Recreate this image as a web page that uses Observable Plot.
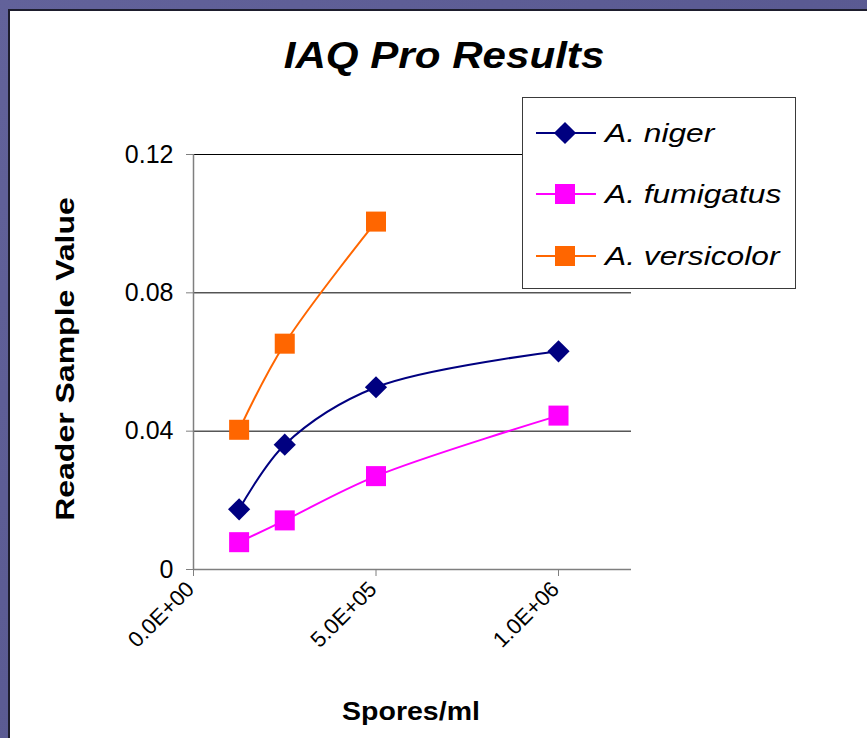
<!DOCTYPE html>
<html>
<head>
<meta charset="utf-8">
<script src="https://cdn.jsdelivr.net/npm/d3@7"></script>
<script src="https://cdn.jsdelivr.net/npm/@observablehq/plot@0.6"></script>
<style>
  html, body { margin: 0; padding: 0; }
  body { width: 867px; height: 738px; overflow: hidden; position: relative;
         background: linear-gradient(135deg, #62629a 0%, #5a5a92 50%, #5e5e96 100%);
         font-family: "Liberation Sans", Arial, sans-serif; }
  #panel { position: absolute; left: 8px; top: 9px; width: 859px; height: 729px; background: #fff;
           border-left: 2px solid #1d1d2d; border-top: 2px solid #1d1d2d; box-sizing: border-box; }
  #chart { position: absolute; left: 0; top: 0; }
  .lbl { position: absolute; white-space: nowrap; line-height: 1; color: #000; }
  #legend { position: absolute; left: 522px; top: 97px; width: 274px; height: 192px; background: #fff;
            border: 1px solid #3a3a3a; box-sizing: border-box; }
  .row { position: absolute; left: 0; height: 30px; }
  .row svg { position: absolute; left: 13px; top: 0; }
  .row span { position: absolute; left: 82px; top: 2px; font-style: italic; font-size: 26px; line-height: 1;
              white-space: nowrap; transform-origin: 0 50%; transform: scaleX(1.22); }
</style>
</head>
<body>
<div id="panel"></div>
<div id="chart"></div>
<div class="lbl" id="title" style="left:443.5px; top:56px; font-size:36px; font-weight:bold; font-style:italic; transform:translate(-50%,-50%) scaleX(1.17);">IAQ Pro Results</div>
<div class="lbl" id="ylabel" style="left:65px; top:359px; font-size:25px; font-weight:bold; transform:translate(-50%,-50%) rotate(-90deg) scaleX(1.28);">Reader Sample Value</div>
<div class="lbl" id="xlabel" style="left:411px; top:711px; font-size:25px; font-weight:bold; transform:translate(-50%,-50%) scaleX(1.14);">Spores/ml</div>
<div id="legend"></div>
<script>
// ---- data ----
const species = ["A. niger", "A. fumigatus", "A. versicolor"];
const colors = ["#000080", "#FF00FF", "#FF6600"];
const symbols = ["diamond2", "square", "square"];
const spores = [125000, 250000, 500000, 1000000];
const nigerValues = [0.0174, 0.0361, 0.0527, 0.0631];
const fumigatusValues = [0.0079, 0.0142, 0.0270, 0.0445];
const versicolorValues = [0.0404, 0.0653, 0.1006];
const xTicks = [0, 500000, 1000000];
const xTickLabels = ["0.0E+00", "5.0E+05", "1.0E+06"];
const yTicks = [0, 0.04, 0.08, 0.12];
const yTickLabels = ["0", "0.04", "0.08", "0.12"];

const seriesValues = [nigerValues, fumigatusValues, versicolorValues];
const rows = [];
species.forEach((s, i) => seriesValues[i].forEach((v, j) => rows.push({species: s, spores: spores[j], value: v})));

const markerR = {"diamond2": 10, "square": 11.3};

const plot = Plot.plot({
  width: 867,
  height: 738,
  marginLeft: 193,
  marginRight: 236,
  marginTop: 154,
  marginBottom: 169,
  style: {background: "transparent", overflow: "visible", fontFamily: "'Liberation Sans', Arial, sans-serif"},
  x: {domain: [0, 1200000]},
  y: {domain: [0, 0.12]},
  color: {domain: species, range: colors},
  symbol: {domain: species, range: symbols},
  marks: [
    Plot.gridY(yTicks.filter(d => d > 0), {stroke: "#000", strokeOpacity: 1, strokeWidth: 1}),
    Plot.ruleY([0], {stroke: "#7f7f7f", strokeWidth: 1.5}),
    Plot.ruleX([0], {stroke: "#7f7f7f", strokeWidth: 1.5}),
    Plot.axisY(yTicks, {tickSize: 7, tickPadding: 13, stroke: "#7f7f7f", fill: "#000", fontSize: 25,
      tickFormat: d => yTickLabels[yTicks.indexOf(d)], label: null}),
    // tick marks only
    Plot.axisX(xTicks, {tickSize: 7, stroke: "#7f7f7f", tickFormat: () => "", label: null}),
    // rotated tick labels only
    Plot.axisX(xTicks, {tickSize: 0, tickPadding: 16, dx: -3, tickRotate: -45, fill: "#000", fontSize: 22,
      tickFormat: d => xTickLabels[xTicks.indexOf(d)], label: null}),
    Plot.line(rows, {x: "spores", y: "value", z: "species", stroke: "species", strokeWidth: 2, curve: "catmull-rom"}),
    ...species.map((s, i) => Plot.dot(rows.filter(d => d.species === s), {
      x: "spores", y: "value", fill: "species", symbol: "species", stroke: "none", r: markerR[symbols[i]]
    }))
  ]
});
document.getElementById("chart").appendChild(plot);

// ---- legend ----
const legend = d3.select("#legend");
const rowCenters = [35, 96, 158];
const symFns = {"diamond2": d3.symbolDiamond2, "square": d3.symbolSquare};
species.forEach((s, i) => {
  const row = legend.append("div").attr("class", "row").style("top", (rowCenters[i] - 15) + "px");
  const svg = row.append("svg").attr("width", 62).attr("height", 30);
  svg.append("line").attr("x1", 0).attr("x2", 60).attr("y1", 15).attr("y2", 15)
     .attr("stroke", colors[i]).attr("stroke-width", 2);
  const r = markerR[symbols[i]];
  svg.append("path").attr("transform", "translate(29,15)")
     .attr("d", d3.symbol(symFns[symbols[i]], Math.PI * r * r)())
     .attr("fill", colors[i]);
  row.append("span").text(s);
});
</script>
</body>
</html>
